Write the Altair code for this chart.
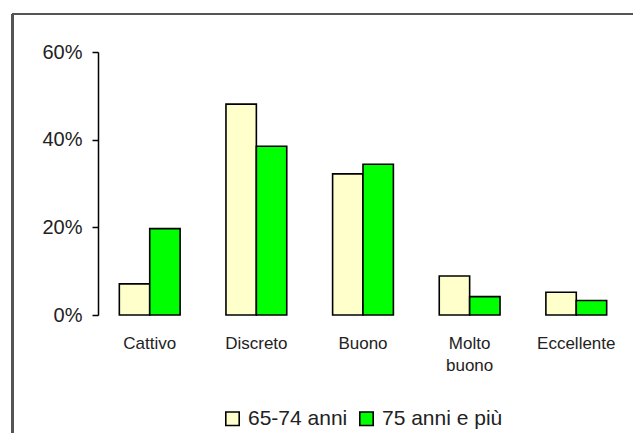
import altair as alt
import pandas as pd

categories = ["Cattivo", "Discreto", "Buono", "Molto buono", "Eccellente"]
series_names = ["65-74 anni", "75 anni e più"]
values_65_74 = [0.071, 0.481, 0.322, 0.089, 0.052]
values_75_plus = [0.197, 0.385, 0.344, 0.042, 0.033]
colors = ["#FFFFCC", "#00FF00"]

rows = []
for c, a, b in zip(categories, values_65_74, values_75_plus):
    rows.append({"cat": c, "serie": series_names[0], "val": a})
    rows.append({"cat": c, "serie": series_names[1], "val": b})
df = pd.DataFrame(rows)

bars = alt.Chart(df).mark_bar(stroke="black", strokeWidth=1.6).encode(
    x=alt.X("cat:N", sort=categories, title=None,
            scale=alt.Scale(paddingInner=0.43, paddingOuter=0.2),
            axis=alt.Axis(domain=False, ticks=False, labelAngle=0, labelPadding=28,
                          labelFontSize=17, labelFont="Liberation Sans", labelColor="#222",
                          labelLineHeight=22, labelBaseline="middle",
                          labelExpr="datum.label == 'Molto buono' ? ['Molto', 'buono'] : datum.label")),
    xOffset=alt.XOffset("serie:N", sort=series_names),
    y=alt.Y("val:Q", title=None,
            scale=alt.Scale(domain=[0, 0.6], nice=False),
            axis=alt.Axis(format="%", values=[0, 0.2, 0.4, 0.6], grid=False,
                          domainColor="black", domainWidth=1.5, tickColor="black",
                          tickWidth=1.5, tickSize=6, labelPadding=10,
                          labelFontSize=20, labelFont="Liberation Sans", labelColor="#222")),
    color=alt.Color("serie:N", sort=series_names, title=None,
                    scale=alt.Scale(domain=series_names, range=colors),
                    legend=alt.Legend(orient="none", legendX=124, legendY=356,
                                      direction="horizontal", symbolType="square",
                                      symbolSize=180, symbolStrokeColor="black",
                                      symbolStrokeWidth=1.6, labelFontSize=21,
                                      labelFont="Liberation Sans", labelColor="#222",
                                      columnPadding=8, labelOffset=5, padding=0)),
)

frame_left = alt.Chart(df).mark_rule(color="#555555", strokeWidth=2, clip=False).encode(
    x=alt.value(-85.5), y=alt.value(-38), y2=alt.value(420))
frame_top = alt.Chart(df).mark_rule(color="#555555", strokeWidth=2, clip=False).encode(
    x=alt.value(-85.5), x2=alt.value(560), y=alt.value(-38))

chart = alt.layer(frame_left, frame_top, bars).properties(
    width=530, height=263,
    padding={"left": 90, "top": 44, "right": 5, "bottom": 118},
    autosize=alt.AutoSizeParams(type="none"),
).configure_view(stroke=None)

chart.save("out.html", embed_options={"renderer": "svg", "actions": False})
